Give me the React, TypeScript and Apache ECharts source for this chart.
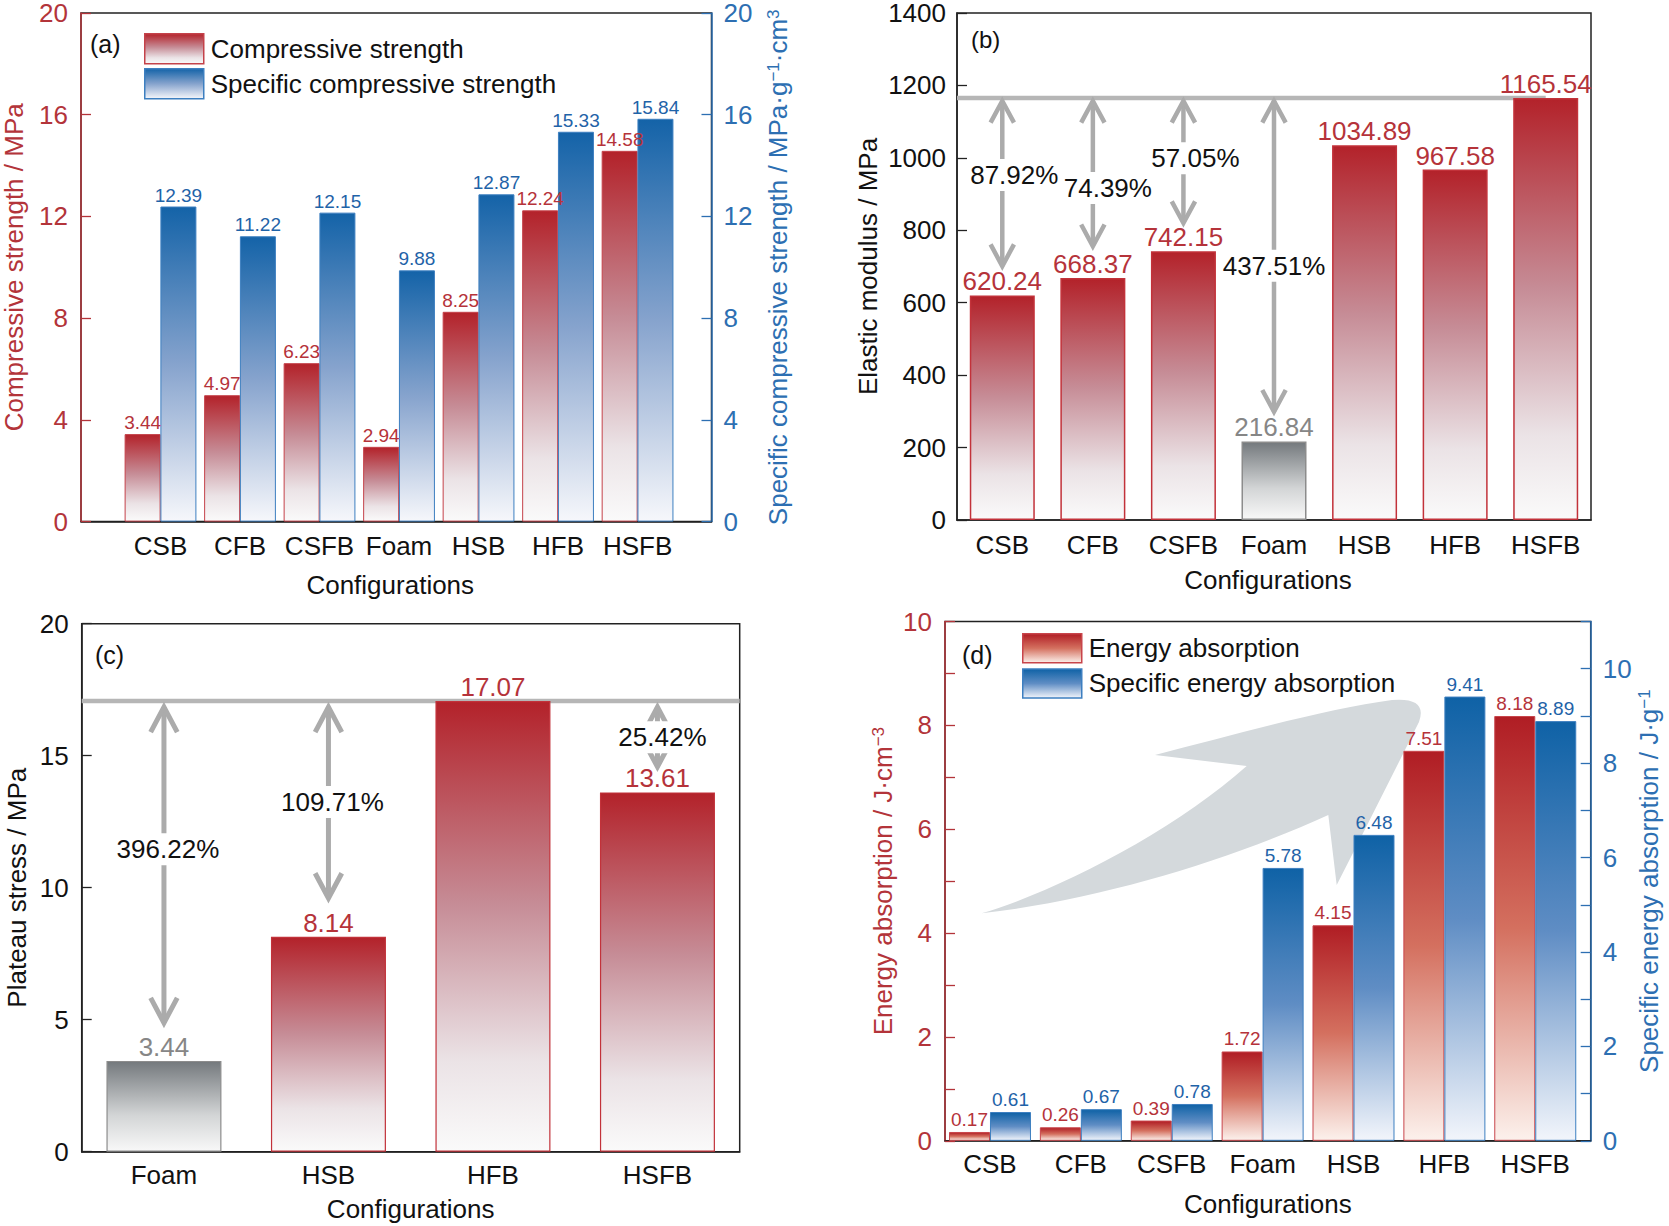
import React, { useEffect, useRef } from "react";
import * as echarts from "echarts";

// ---------- data ----------
const categories7 = ["CSB", "CFB", "CSFB", "Foam", "HSB", "HFB", "HSFB"];
const compressiveStrength = [3.44, 4.97, 6.23, 2.94, 8.25, 12.24, 14.58];
const specificCompressiveStrength = [12.39, 11.22, 12.15, 9.88, 12.87, 15.33, 15.84];
const elasticModulus = [620.24, 668.37, 742.15, 216.84, 1034.89, 967.58, 1165.54];
const categories4 = ["Foam", "HSB", "HFB", "HSFB"];
const plateauStress = [3.44, 8.14, 17.07, 13.61];
const energyAbsorption = [0.17, 0.26, 0.39, 1.72, 4.15, 7.51, 8.18];
const specificEnergyAbsorption = [0.61, 0.67, 0.78, 5.78, 6.48, 9.41, 8.89];

// arrows in (b): category index, arrow end value, label position value, label text
const modulusArrowCats = [0, 1, 2, 3];
const modulusArrowEnds = [701, 756, 820, 299];
const modulusArrowLabelAt = [953, 917, 999, 702];
const modulusArrowTexts = ["87.92%", "74.39%", "57.05%", "437.51%"];
// arrows in (c)
const plateauArrowCats = [0, 1, 3];
const plateauArrowEnds = [4.88, 9.6, 14.58];
const plateauArrowLabelAt = [11.46, 13.25, 15.7];
const plateauArrowTexts = ["396.22%", "109.71%", "25.42%"];

// ---------- styles ----------
const FONT = '"Liberation Sans", Arial, Helvetica, sans-serif';
const RED_AX = "#b3343a";
const BLUE_AX = "#2d6fb2";
const RED_LABEL = "#b5333a";
const BLUE_LABEL = "#1f63a8";
const GRAY_LABEL = "#868686";
const ARROW = "#ababab";
const REFLINE = "#b6b6b6";

const grad = (stops: [number, string][]) =>
  new echarts.graphic.LinearGradient(0, 0, 0, 1, stops.map(([offset, color]) => ({ offset, color })));

const redGrad = () => grad([[0, "#b3222a"], [0.45, "#c68c96"], [0.8, "#ebe3e6"], [1, "#fafafa"]]);
const blueGrad = () => grad([[0, "#1463a8"], [0.5, "#86a3cd"], [1, "#f6f7fb"]]);
const grayGrad = () => grad([[0, "#74797d"], [0.6, "#d3d5d6"], [1, "#f8f8f8"]]);
const redGradD = () => grad([[0, "#b01d24"], [0.5, "#d4705f"], [1, "#fcf1ec"]]);
const blueGradD = () => grad([[0, "#0f62a6"], [0.5, "#5f8dc4"], [1, "#f2f5fb"]]);

const ARROW_PATH =
  "M 981.7 913.3 C 1060 890 1175 830 1246.7 766 L 1155 755 C 1240 733 1330 708 1392 700 Q 1428 697 1419 722 Q 1380 800 1336.7 885 L 1328.3 815 C 1230 860 1100 900 981.7 913.3 Z";

let shapeRegistered = false;

function refLineRenderer(toEdge: boolean) {
  return (params: any, api: any) => {
    const cs = params.coordSys;
    const p = api.coord([api.value(1), api.value(2)]);
    const xEnd = toEdge ? cs.x + cs.width : p[0];
    return {
      type: "line",
      shape: { x1: cs.x, y1: p[1], x2: xEnd, y2: p[1] },
      style: { stroke: REFLINE, lineWidth: 4.5 },
    };
  };
}

function arrowRenderer(texts: string[], o: { gap: number; lw: number; w: number; h: number; dx: number[] }) {
  return (params: any, api: any) => {
    const i = params.dataIndex;
    const c = api.value(0);
    const top = api.coord([c, api.value(1)]);
    const bot = api.coord([c, api.value(2)]);
    const lab = api.coord([c, api.value(3)]);
    const x = top[0];
    const y0 = top[1] + o.gap;
    const y1 = bot[1];
    const st = { stroke: ARROW, lineWidth: o.lw, fill: null, lineCap: "butt", lineJoin: "miter" };
    return {
      type: "group",
      children: [
        { type: "line", shape: { x1: x, y1: y0, x2: x, y2: y1 }, style: st },
        { type: "polyline", shape: { points: [[x - o.w, y0 + o.h], [x, y0], [x + o.w, y0 + o.h]] }, style: st },
        { type: "polyline", shape: { points: [[x - o.w, y1 - o.h], [x, y1], [x + o.w, y1 - o.h]] }, style: st },
        {
          type: "text",
          x: x + o.dx[i],
          y: lab[1],
          style: {
            text: texts[i],
            fill: "#111",
            fontSize: 26,
            fontFamily: FONT,
            align: "center",
            verticalAlign: "middle",
            backgroundColor: "#fff",
            padding: [3, 1],
          },
        },
      ],
    };
  };
}

const tickInside = (color: string) => ({ show: true, inside: true, length: 10, lineStyle: { color, width: 1.3 } });
const axisLine = (color: string) => ({ show: true, onZero: false, lineStyle: { color, width: 1.5 } });

function buildOption(): any {
  const cat7Label = (v: number) => (Number.isInteger(v) && categories7[v] ? categories7[v] : "");
  const evenOnly = (v: number) => (Math.round(v) % 2 === 0 ? String(Math.round(v)) : "");
  const xName = { fontSize: 26, color: "#111", fontFamily: FONT };
  const yLab = (color: string, margin: number, extra: any = {}) => ({
    fontSize: 26,
    lineHeight: 22,
    padding: [4, 0, 0, 0],
    color,
    margin,
    ...extra,
  });

  return {
    animation: false,
    backgroundColor: "#fff",
    textStyle: { fontFamily: FONT },
    grid: [
      { left: 78.7, top: 13, width: 632.8, height: 508.6, show: true, borderColor: "#222", borderWidth: 1.5 },
      { left: 957, top: 13, width: 634, height: 507, show: true, borderColor: "#222", borderWidth: 1.5 },
      { left: 81.7, top: 623.7, width: 658, height: 528, show: true, borderColor: "#222", borderWidth: 1.5 },
      { left: 945, top: 621.5, width: 645.7, height: 519.3, show: true, borderColor: "#222", borderWidth: 1.5 },
    ],
    legend: [
      {
        data: ["Compressive strength", "Specific compressive strength"],
        orient: "vertical",
        left: 139,
        top: 28,
        itemWidth: 59,
        itemHeight: 30,
        itemGap: 3.5,
        icon: "rect",
        selectedMode: false,
        itemStyle: { borderWidth: 1.5 },
        textStyle: { fontSize: 26, color: "#111", fontFamily: FONT, padding: [0, 0, 0, 2] },
      },
      {
        data: ["Energy absorption", "Specific energy absorption"],
        orient: "vertical",
        left: 1017,
        top: 628,
        itemWidth: 59,
        itemHeight: 29,
        itemGap: 4.7,
        icon: "rect",
        selectedMode: false,
        itemStyle: { borderWidth: 1.5 },
        textStyle: { fontSize: 26, color: "#111", fontFamily: FONT, padding: [0, 0, 0, 2] },
      },
    ],
    xAxis: [
      {
        type: "value",
        gridIndex: 0,
        min: -1,
        max: 6.93,
        axisLine: axisLine("#222"),
        axisTick: { show: false },
        splitLine: { show: false },
        axisLabel: { customValues: [0, 1, 2, 3, 4, 5, 6], formatter: cat7Label, fontSize: 26, color: "#111", margin: 11 },
        name: "Configurations",
        nameLocation: "middle",
        nameGap: 50,
        nameTextStyle: { ...xName, padding: [0, 12, 0, 0] },
      },
      {
        type: "category",
        gridIndex: 1,
        data: categories7,
        axisLine: axisLine("#222"),
        axisTick: { show: false },
        axisLabel: { fontSize: 26, color: "#111", margin: 12 },
        name: "Configurations",
        nameLocation: "middle",
        nameGap: 47,
        nameTextStyle: { ...xName, padding: [0, 12, 0, 0] },
      },
      {
        type: "category",
        gridIndex: 2,
        data: categories4,
        axisLine: axisLine("#222"),
        axisTick: { show: false },
        axisLabel: { fontSize: 26, color: "#111", margin: 10 },
        name: "Configurations",
        nameLocation: "middle",
        nameGap: 44,
        nameTextStyle: xName,
      },
      {
        type: "value",
        gridIndex: 3,
        min: -0.495,
        max: 6.61,
        axisLine: axisLine("#222"),
        axisTick: { show: false },
        splitLine: { show: false },
        axisLabel: { customValues: [0, 1, 2, 3, 4, 5, 6], formatter: cat7Label, fontSize: 26, color: "#111", margin: 10 },
        name: "Configurations",
        nameLocation: "middle",
        nameGap: 50,
        nameTextStyle: xName,
      },
    ],
    yAxis: [
      {
        type: "value",
        gridIndex: 0,
        position: "left",
        min: 0,
        max: 20,
        interval: 4,
        axisLine: axisLine(RED_AX),
        axisTick: tickInside(RED_AX),
        splitLine: { show: false },
        axisLabel: yLab(RED_AX, 13),
        name: "Compressive strength / MPa",
        nameLocation: "middle",
        nameRotate: 90,
        nameGap: 54,
        nameTextStyle: { fontSize: 26, color: RED_AX, fontFamily: FONT },
      },
      {
        type: "value",
        gridIndex: 0,
        position: "right",
        min: 0,
        max: 20,
        interval: 4,
        axisLine: axisLine(BLUE_AX),
        axisTick: tickInside(BLUE_AX),
        splitLine: { show: false },
        axisLabel: yLab(BLUE_AX, 12),
        name: "Specific compressive strength / MPa·g{s|−1}·cm{s|3}",
        nameLocation: "middle",
        nameRotate: 90,
        nameGap: 53,
        nameTextStyle: {
          fontSize: 26,
          color: BLUE_AX,
          fontFamily: FONT,
          rich: { s: { fontSize: 17, color: BLUE_AX, fontFamily: FONT, verticalAlign: "top", lineHeight: 26 } },
        },
      },
      {
        type: "value",
        gridIndex: 1,
        min: 0,
        max: 1400,
        interval: 200,
        axisLine: axisLine("#222"),
        axisTick: tickInside("#222"),
        splitLine: { show: false },
        axisLabel: yLab("#111", 11, { formatter: (v: number) => String(v) }),
        name: "Elastic modulus / MPa",
        nameLocation: "middle",
        nameRotate: 90,
        nameGap: 76,
        nameTextStyle: { fontSize: 26, color: "#111", fontFamily: FONT },
      },
      {
        type: "value",
        gridIndex: 2,
        min: 0,
        max: 20,
        interval: 5,
        axisLine: axisLine("#222"),
        axisTick: tickInside("#222"),
        splitLine: { show: false },
        axisLabel: yLab("#111", 13),
        name: "Plateau stress / MPa",
        nameLocation: "middle",
        nameRotate: 90,
        nameGap: 52,
        nameTextStyle: { fontSize: 26, color: "#111", fontFamily: FONT },
      },
      {
        type: "value",
        gridIndex: 3,
        position: "left",
        min: 0,
        max: 10,
        interval: 1,
        axisLine: axisLine(RED_AX),
        axisTick: tickInside(RED_AX),
        splitLine: { show: false },
        axisLabel: yLab(RED_AX, 13, { formatter: evenOnly }),
        name: "Energy absorption / J·cm{s|−3}",
        nameLocation: "middle",
        nameRotate: 90,
        nameGap: 49,
        nameTextStyle: {
          fontSize: 26,
          color: RED_AX,
          fontFamily: FONT,
          rich: { s: { fontSize: 17, color: RED_AX, fontFamily: FONT, verticalAlign: "top", lineHeight: 26 } },
        },
      },
      {
        type: "value",
        gridIndex: 3,
        position: "right",
        min: 0,
        max: 11,
        interval: 1,
        axisLine: axisLine(BLUE_AX),
        axisTick: tickInside(BLUE_AX),
        splitLine: { show: false },
        axisLabel: yLab(BLUE_AX, 12, { formatter: evenOnly }),
        name: "Specific energy absorption / J·g{s|−1}",
        nameLocation: "middle",
        nameRotate: 90,
        nameGap: 44,
        nameTextStyle: {
          fontSize: 26,
          color: BLUE_AX,
          fontFamily: FONT,
          rich: { s: { fontSize: 17, color: BLUE_AX, fontFamily: FONT, verticalAlign: "top", lineHeight: 26 } },
        },
      },
    ],
    series: [
      // (a)
      {
        name: "Compressive strength",
        type: "bar",
        xAxisIndex: 0,
        yAxisIndex: 0,
        barWidth: 36,
        barGap: "-100%",
        data: compressiveStrength.map((v, i) => [i - 0.225, v]),
        itemStyle: { color: redGrad(), borderColor: "#c4424a", borderWidth: 1 },
        label: { show: true, position: "top", distance: 2, fontSize: 19, color: RED_LABEL, formatter: (p: any) => p.value[1].toFixed(2) },
      },
      {
        name: "Specific compressive strength",
        type: "bar",
        xAxisIndex: 0,
        yAxisIndex: 1,
        barWidth: 36,
        barGap: "-100%",
        data: specificCompressiveStrength.map((v, i) => [i + 0.225, v]),
        itemStyle: { color: blueGrad(), borderColor: "#3d7fc0", borderWidth: 1 },
        label: { show: true, position: "top", distance: 2, fontSize: 19, color: BLUE_LABEL, formatter: (p: any) => p.value[1].toFixed(2) },
      },
      // (b)
      {
        type: "custom",
        xAxisIndex: 1,
        yAxisIndex: 2,
        z: 1,
        clip: false,
        renderItem: refLineRenderer(false),
        data: [[0, categories7.length - 1, Math.max(...elasticModulus)]],
      },
      {
        type: "bar",
        name: "Elastic modulus",
        xAxisIndex: 1,
        yAxisIndex: 2,
        z: 2,
        barWidth: 65,
        data: elasticModulus.map((v, i) =>
          categories7[i] === "Foam"
            ? { value: v, itemStyle: { color: grayGrad(), borderColor: "#8c8c8c", borderWidth: 1.5 }, label: { color: GRAY_LABEL } }
            : v
        ),
        itemStyle: { color: redGrad(), borderColor: "#c2323a", borderWidth: 1.5 },
        label: { show: true, position: "top", distance: 1, fontSize: 26, color: RED_LABEL, formatter: (p: any) => Number(p.value).toFixed(2) },
      },
      {
        type: "custom",
        xAxisIndex: 1,
        yAxisIndex: 2,
        z: 3,
        clip: false,
        renderItem: arrowRenderer(modulusArrowTexts, { gap: 3, lw: 4.5, w: 11.7, h: 21.7, dx: [12, 15, 12, 0] }),
        data: modulusArrowCats.map((c, i) => [c, Math.max(...elasticModulus), modulusArrowEnds[i], modulusArrowLabelAt[i]]),
      },
      // (c)
      {
        type: "custom",
        xAxisIndex: 2,
        yAxisIndex: 3,
        z: 1,
        clip: false,
        renderItem: refLineRenderer(true),
        data: [[0, categories4.length - 1, Math.max(...plateauStress)]],
      },
      {
        type: "bar",
        name: "Plateau stress",
        xAxisIndex: 2,
        yAxisIndex: 3,
        z: 2,
        barWidth: 115,
        data: plateauStress.map((v, i) =>
          categories4[i] === "Foam"
            ? { value: v, itemStyle: { color: grayGrad(), borderColor: "#8c8c8c", borderWidth: 1.2 }, label: { color: GRAY_LABEL } }
            : v
        ),
        itemStyle: { color: redGrad(), borderColor: "#c2323a", borderWidth: 1.2 },
        label: { show: true, position: "top", distance: 1, fontSize: 26, color: RED_LABEL, formatter: (p: any) => Number(p.value).toFixed(2) },
      },
      {
        type: "custom",
        xAxisIndex: 2,
        yAxisIndex: 3,
        z: 3,
        clip: false,
        renderItem: arrowRenderer(plateauArrowTexts, { gap: 6, lw: 5, w: 13.3, h: 25, dx: [4, 4, 5] }),
        data: plateauArrowCats.map((c, i) => [c, Math.max(...plateauStress), plateauArrowEnds[i], plateauArrowLabelAt[i]]),
      },
      // (d)
      {
        name: "Energy absorption",
        type: "bar",
        xAxisIndex: 3,
        yAxisIndex: 4,
        barWidth: 41,
        barGap: "-100%",
        data: energyAbsorption.map((v, i) => [i - 0.2255, v]),
        itemStyle: { color: redGradD(), borderColor: "#c8454b", borderWidth: 1 },
        label: { show: true, position: "top", distance: 3, fontSize: 19, color: RED_LABEL, formatter: (p: any) => p.value[1].toFixed(2) },
      },
      {
        name: "Specific energy absorption",
        type: "bar",
        xAxisIndex: 3,
        yAxisIndex: 5,
        barWidth: 41,
        barGap: "-100%",
        data: specificEnergyAbsorption.map((v, i) => [i + 0.2255, v]),
        itemStyle: { color: blueGradD(), borderColor: "#3d7fc0", borderWidth: 1 },
        label: { show: true, position: "top", distance: 3, fontSize: 19, color: BLUE_LABEL, formatter: (p: any) => p.value[1].toFixed(2) },
      },
    ],
    graphic: [
      { type: "trendArrow", x: 0, y: 0, z: 0, style: { fill: "#d4d9dc" } },
      { type: "text", left: 90, top: 31, style: { text: "(a)", fontSize: 25, fill: "#111", fontFamily: FONT } },
      { type: "text", left: 971, top: 27, style: { text: "(b)", fontSize: 24, fill: "#111", fontFamily: FONT } },
      { type: "text", left: 95, top: 642, style: { text: "(c)", fontSize: 25, fill: "#111", fontFamily: FONT } },
      { type: "text", left: 962, top: 642, style: { text: "(d)", fontSize: 25, fill: "#111", fontFamily: FONT } },
    ],
  };
}

export default function App() {
  const ref = useRef<HTMLDivElement>(null);
  useEffect(() => {
    document.body.style.margin = "0";
    if (!shapeRegistered) {
      echarts.graphic.registerShape("trendArrow", echarts.graphic.extendPath(ARROW_PATH, {}) as any);
      shapeRegistered = true;
    }
    const chart = echarts.init(ref.current!, undefined, { renderer: "svg" });
    chart.setOption(buildOption());
    return () => chart.dispose();
  }, []);
  return <div ref={ref} style={{ width: 1669, height: 1226 }} />;
}
